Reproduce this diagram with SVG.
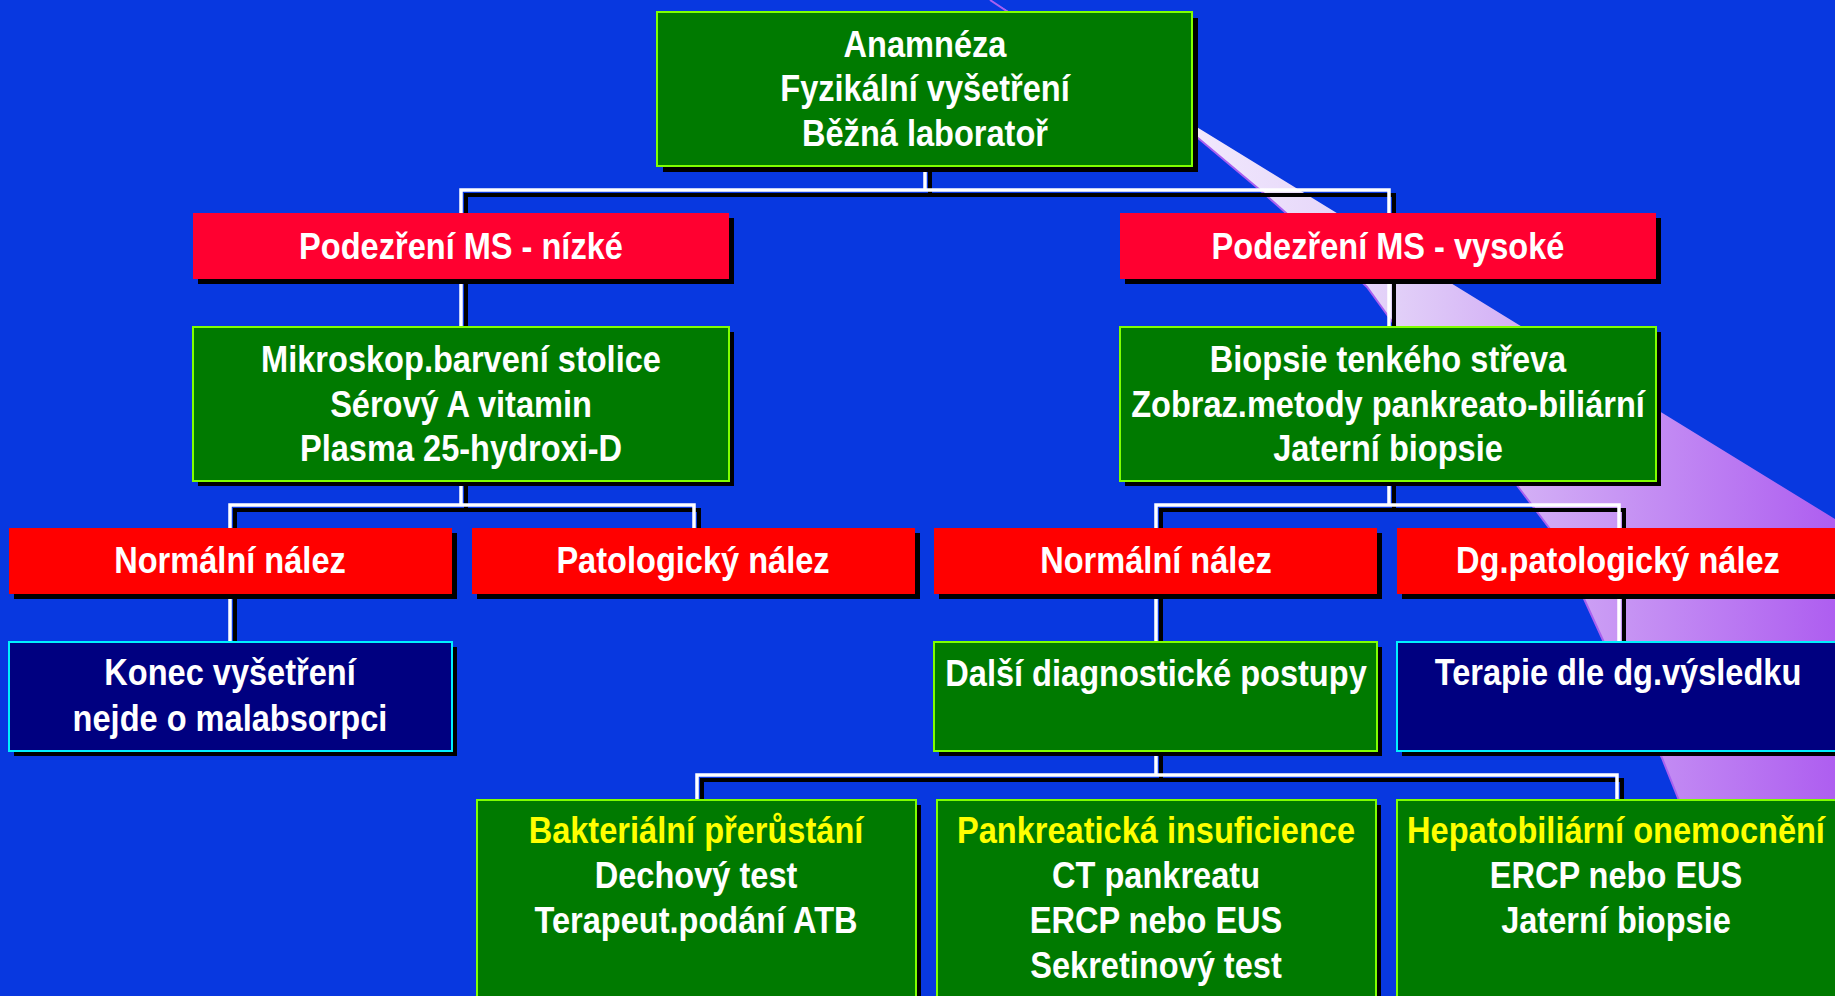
<svg xmlns="http://www.w3.org/2000/svg" width="1835" height="996" viewBox="0 0 1835 996">
<defs>
<linearGradient id="bandGrad" gradientUnits="userSpaceOnUse" x1="1100" y1="0" x2="1835" y2="0">
<stop offset="0" stop-color="#F8F4FF"/>
<stop offset="0.4" stop-color="#E2D0F8"/>
<stop offset="1" stop-color="#AE5EF0"/>
</linearGradient>
<style>
.g{fill:#007A00;stroke:#80FF00;stroke-width:2}
.r1{fill:#FF0030}
.r2{fill:#FF0000}
.n{fill:#000080;stroke:#00F0FF;stroke-width:2}
.sh{fill:#000}
.t{font-family:"Liberation Sans",Arial,sans-serif;font-weight:bold;font-size:37px;fill:#fff;text-anchor:middle}
.y{fill:#FFFF00}
.c{stroke:#fff;stroke-width:3.5;fill:none}
.cs{stroke:#000;stroke-width:4;fill:none}
</style>
</defs>
<rect x="0" y="0" width="1835" height="996" fill="#0838E0"/>
<path d="M990,0 L1198,138 L1260,190 L1320,243 L1367,287 L1396,327 L1460,410 L1522,492 L1553,533 L1580,590 L1607,649 L1662,758 L1678,798 L1760,996 L1835,996 L1835,519 Z" fill="url(#bandGrad)"/>
<path d="M990,0 L1198,138 L1260,190 L1320,243 L1367,287 L1396,327 L1460,410 L1522,492 L1553,533 L1580,590 L1607,649 L1662,758 L1678,798 L1760,996" fill="none" stroke="#A860F0" stroke-width="2"/>
<g id="connectors">
<g transform="translate(5,5)">
<path class="cs" d="M461,213 V190 H1389 V213 M925,166 V190 M461,279 V327 M1389,279 V327 M461,481 V505 M230,528 V505 H694 V528 M1389,481 V505 M1156,528 V505 H1619 V528 M230,594 V642 M1156,594 V642 M1619,594 V642 M1156,751 V775 M697,800 V775 H1617 V800"/>
</g>
<path class="c" d="M461,213 V190 H1389 V213 M925,166 V190 M461,279 V327 M1389,279 V327 M461,481 V505 M230,528 V505 H694 V528 M1389,481 V505 M1156,528 V505 H1619 V528 M230,594 V642 M1156,594 V642 M1619,594 V642 M1156,751 V775 M697,800 V775 H1617 V800"/>
</g>
<g id="n1">
<rect class="sh" x="663" y="18" width="535" height="154"/>
<rect class="g" x="657" y="12" width="535" height="154"/>
<text class="t" transform="translate(925,57) scale(0.88,1)">Anamnéza</text>
<text class="t" transform="translate(925,101) scale(0.88,1)">Fyzikální vyšetření</text>
<text class="t" transform="translate(925,146) scale(0.88,1)">Běžná laboratoř</text>
</g>
<g id="n2">
<rect class="sh" x="198" y="218" width="536" height="66"/>
<rect class="r1" x="193" y="213" width="536" height="66"/>
<text class="t" transform="translate(461,259) scale(0.88,1)">Podezření MS - nízké</text>
</g>
<g id="n3">
<rect class="sh" x="1125" y="218" width="536" height="66"/>
<rect class="r1" x="1120" y="213" width="536" height="66"/>
<text class="t" transform="translate(1388,259) scale(0.88,1)">Podezření MS - vysoké</text>
</g>
<g id="n4">
<rect class="sh" x="198" y="332" width="536" height="154"/>
<rect class="g" x="193" y="327" width="536" height="154"/>
<text class="t" transform="translate(461,372) scale(0.88,1)">Mikroskop.barvení stolice</text>
<text class="t" transform="translate(461,417) scale(0.88,1)">Sérový A vitamin</text>
<text class="t" transform="translate(461,461) scale(0.88,1)">Plasma 25-hydroxi-D</text>
</g>
<g id="n5">
<rect class="sh" x="1125" y="332" width="536" height="154"/>
<rect class="g" x="1120" y="327" width="536" height="154"/>
<text class="t" transform="translate(1388,372) scale(0.88,1)">Biopsie tenkého střeva</text>
<text class="t" transform="translate(1388,417) scale(0.88,1)">Zobraz.metody pankreato-biliární</text>
<text class="t" transform="translate(1388,461) scale(0.88,1)">Jaterní biopsie</text>
</g>
<g id="n6">
<rect class="sh" x="14" y="533" width="443" height="66"/>
<rect class="r2" x="9" y="528" width="443" height="66"/>
<text class="t" transform="translate(230,573) scale(0.88,1)">Normální nález</text>
</g>
<g id="n7">
<rect class="sh" x="477" y="533" width="443" height="66"/>
<rect class="r2" x="472" y="528" width="443" height="66"/>
<text class="t" transform="translate(693,573) scale(0.88,1)">Patologický nález</text>
</g>
<g id="n8">
<rect class="sh" x="939" y="533" width="443" height="66"/>
<rect class="r2" x="934" y="528" width="443" height="66"/>
<text class="t" transform="translate(1156,573) scale(0.88,1)">Normální nález</text>
</g>
<g id="n9">
<rect class="sh" x="1402" y="533" width="443" height="66"/>
<rect class="r2" x="1397" y="528" width="443" height="66"/>
<text class="t" transform="translate(1618,573) scale(0.88,1)">Dg.patologický nález</text>
</g>
<g id="n10">
<rect class="sh" x="14" y="647" width="443" height="109"/>
<rect class="n" x="9" y="642" width="443" height="109"/>
<text class="t" transform="translate(230,685) scale(0.88,1)">Konec vyšetření</text>
<text class="t" transform="translate(230,731) scale(0.88,1)">nejde o malabsorpci</text>
</g>
<g id="n11">
<rect class="sh" x="939" y="647" width="443" height="109"/>
<rect class="g" x="934" y="642" width="443" height="109"/>
<text class="t" transform="translate(1156,686) scale(0.88,1)">Další diagnostické postupy</text>
</g>
<g id="n12">
<rect class="sh" x="1402" y="647" width="443" height="109"/>
<rect class="n" x="1397" y="642" width="443" height="109"/>
<text class="t" transform="translate(1618,685) scale(0.88,1)">Terapie dle dg.výsledku</text>
</g>
<g id="n13">
<rect class="sh" x="482" y="805" width="439" height="210"/>
<rect class="g" x="477" y="800" width="439" height="210"/>
<text class="t y" transform="translate(696,843) scale(0.88,1)">Bakteriální přerůstání</text>
<text class="t" transform="translate(696,888) scale(0.88,1)">Dechový test</text>
<text class="t" transform="translate(696,933) scale(0.88,1)">Terapeut.podání ATB</text>
</g>
<g id="n14">
<rect class="sh" x="942" y="805" width="439" height="210"/>
<rect class="g" x="937" y="800" width="439" height="210"/>
<text class="t y" transform="translate(1156,843) scale(0.88,1)">Pankreatická insuficience</text>
<text class="t" transform="translate(1156,888) scale(0.88,1)">CT pankreatu</text>
<text class="t" transform="translate(1156,933) scale(0.88,1)">ERCP nebo EUS</text>
<text class="t" transform="translate(1156,978) scale(0.88,1)">Sekretinový test</text>
</g>
<g id="n15">
<rect class="sh" x="1402" y="805" width="443" height="210"/>
<rect class="g" x="1397" y="800" width="443" height="210"/>
<text class="t y" transform="translate(1616,843) scale(0.88,1)">Hepatobiliární onemocnění</text>
<text class="t" transform="translate(1616,888) scale(0.88,1)">ERCP nebo EUS</text>
<text class="t" transform="translate(1616,933) scale(0.88,1)">Jaterní biopsie</text>
</g>
</svg>
